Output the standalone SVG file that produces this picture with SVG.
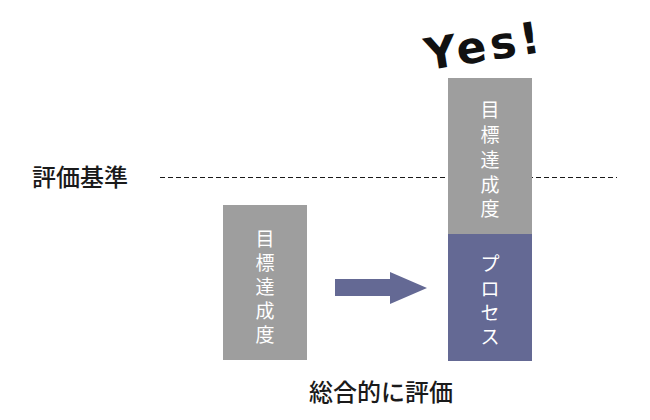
<svg xmlns="http://www.w3.org/2000/svg" width="650" height="420" viewBox="0 0 650 420">
<style>
.lbl{font-family:"Noto Sans CJK JP","Noto Sans",sans-serif;fill:#1a1a1a;font-weight:500}
.bt{font-family:"Noto Sans CJK JP","Noto Sans",sans-serif;fill:#fff;font-size:19px;text-anchor:middle;dominant-baseline:central}
.gray{fill:#9e9e9e}
.blue{fill:#646994}
</style>
<rect width="650" height="420" fill="#fff"/>
<g id="connectors">
<line x1="160" y1="177.5" x2="617" y2="177.5" stroke="#1a1a1a" stroke-width="1" stroke-dasharray="5,3"/>
<polygon class="blue" points="335,279 390,279 390,272 427,288 390,304 390,296 335,296"/>
</g>
<g id="label-criteria">
<text class="lbl" x="32" y="186" font-size="24">評価基準</text>
</g>
<g id="node-left">
<rect class="gray" x="223" y="205" width="84" height="155"/>
<text class="bt" x="265" y="237">目</text>
<text class="bt" x="265" y="261">標</text>
<text class="bt" x="265" y="285">達</text>
<text class="bt" x="265" y="309">成</text>
<text class="bt" x="265" y="333">度</text>
</g>
<g id="node-right">
<rect class="gray" x="448" y="78" width="84" height="156"/>
<rect class="blue" x="448" y="234" width="84" height="127"/>
<text class="bt" x="490" y="108">目</text>
<text class="bt" x="490" y="133">標</text>
<text class="bt" x="490" y="158">達</text>
<text class="bt" x="490" y="183">成</text>
<text class="bt" x="490" y="207">度</text>
<text class="bt" x="490" y="262">プ</text>
<text class="bt" x="490" y="287">ロ</text>
<text class="bt" x="490" y="311">セ</text>
<text class="bt" x="490" y="335">ス</text>
</g>
<g id="label-yes">
<text x="484" y="61" font-family="'DejaVu Sans',sans-serif" font-weight="bold" font-size="44" letter-spacing="4" text-anchor="middle" fill="#111" transform="rotate(-9 484 45)">Yes!</text>
</g>
<g id="label-total">
<text class="lbl" x="381" y="401" font-size="24" text-anchor="middle">総合的に評価</text>
</g>
</svg>
